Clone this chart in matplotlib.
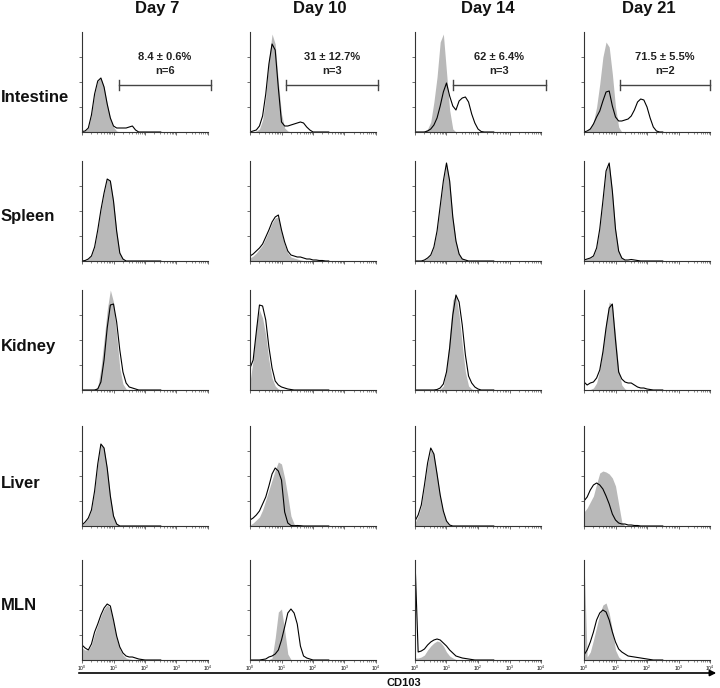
import numpy as np
import matplotlib
matplotlib.use("Agg")
import matplotlib.pyplot as plt
from matplotlib.patches import FancyArrowPatch
from matplotlib.ticker import LogLocator, NullFormatter, LogFormatterMathtext

plt.rcParams['font.family'] = ['Liberation Sans', 'DejaVu Sans']

days = ['Day 7', 'Day 10', 'Day 14', 'Day 21']
tissues = ['Intestine', 'Spleen', 'Kidney', 'Liver', 'MLN']

# histogram bins in log10 fluorescence units (10^0 .. 10^2.5)
decades = np.round(np.arange(0, 2.51, 0.1), 1)

# CD103+ gate on the intestine plots (log10 units) and the stats above it
gate_lo = [1.17, 1.14, 1.2, 1.14]
gate_hi = [4.1, 4.06, 4.16, 4.0]
gate_pct = ['8.4 \u00b1 0.6%', '31 \u00b1 12.7%', '62 \u00b1 6.4%', '71.5 \u00b1 5.5%']
gate_n = [6, 3, 3, 2]

# event counts, % of the panel height; one list per day (7, 10, 14, 21)
# iso = grey filled control, cd103 = black line
intestine_iso = [
    [0.5, 1, 4, 17, 38, 51, 54, 45, 28, 14, 5, 1],
    [0, 0, 1, 3, 12, 35, 72, 98, 88, 50, 18, 4, 1],
    [0, 0, 0, 1, 3, 10, 30, 55, 90, 98, 60, 22, 3],
    [0, 1, 4, 10, 25, 48, 75, 90, 85, 58, 25, 5],
]
intestine_cd103 = [
    [0.5, 1, 4, 17, 38, 51, 54, 45, 28, 14, 6, 4, 4, 4, 4, 5, 6, 2],
    [0, 1, 2, 6, 16, 38, 68, 88, 82, 44, 10, 6, 6, 7, 8, 9, 10, 9, 5, 2],
    [0, 0, 0, 0, 1, 3, 7, 14, 26, 40, 49, 36, 26, 22, 31, 34, 35, 30, 18, 9, 3, 0.5],
    [0, 1, 3, 8, 15, 21, 31, 40, 41, 26, 15, 11, 11, 12, 13, 16, 22, 30, 33, 32, 25, 14, 5, 1],
]
spleen_iso = [
    [0, 0.5, 2, 5, 14, 31, 51, 68, 82, 80, 60, 30, 8, 2],
    [3, 5, 8, 12, 16, 23, 30, 38, 43, 44, 29, 16, 8, 4, 3, 2, 1, 0.5],
    [0, 0, 0, 1, 3, 6, 14, 30, 55, 80, 98, 80, 44, 20, 7, 2, 1],
    [1, 2, 3, 5, 13, 32, 60, 90, 98, 70, 32, 10, 3, 1],
]
spleen_cd103 = [
    [0, 0.5, 2, 5, 14, 31, 51, 68, 82, 80, 60, 30, 8, 2],
    [5, 7, 10, 13, 17, 24, 31, 39, 44, 46, 31, 19, 10, 6, 5, 4, 4, 3, 2, 2, 1, 1, 0.5, 0.5],
    [0, 0, 0, 1, 3, 6, 14, 30, 55, 80, 98, 80, 44, 20, 7, 2, 1],
    [1, 2, 3, 5, 13, 32, 60, 90, 98, 70, 32, 10, 3, 1, 1, 1.5, 1, 0.5],
]
kidney_iso = [
    [0, 0, 0, 0, 1, 3, 22, 50, 80, 100, 88, 55, 22, 6, 1],
    [8, 30, 65, 80, 72, 55, 30, 12, 4, 1],
    [0, 0, 0, 0, 0, 0, 0, 0, 1, 4, 20, 55, 90, 95, 75, 45, 18, 4, 1],
    [0, 0, 0.5, 2, 7, 20, 42, 68, 88, 85, 55, 20, 5, 1],
]
kidney_cd103 = [
    [0, 0, 0, 0, 0, 1, 8, 30, 62, 85, 86, 68, 40, 18, 7, 3, 2, 1],
    [22, 30, 58, 85, 84, 70, 43, 22, 9, 5, 3, 2, 1, 0.5],
    [0, 0, 0, 0, 0, 0, 0, 0.5, 2, 6, 18, 42, 75, 95, 88, 65, 35, 14, 7, 3, 1],
    [8, 5, 7, 8, 12, 20, 38, 62, 82, 86, 50, 18, 11, 8, 7, 7, 5, 3, 2, 2, 1, 0.5],
]
liver_iso = [
    [1, 4, 8, 16, 35, 62, 82, 78, 58, 30, 10, 2],
    [1, 3, 6, 9, 16, 26, 36, 46, 56, 64, 62, 48, 30, 10, 2],
    [3, 10, 20, 40, 62, 76, 72, 52, 30, 14, 4, 0.5],
    [14, 18, 24, 30, 42, 53, 55, 54, 52, 48, 40, 22, 4],
]
liver_cd103 = [
    [1, 4, 8, 16, 35, 62, 82, 78, 58, 30, 10, 2],
    [6, 8, 11, 15, 22, 29, 40, 52, 58, 55, 46, 14, 3, 0.5, 0.3, 0.5, 0.3],
    [5, 11, 21, 41, 63, 78, 72, 52, 31, 15, 5, 1],
    [25, 29, 36, 41, 43, 41, 37, 30, 22, 12, 6, 3, 2, 2, 1, 1, 0.5, 0.5],
]
mln_iso = [
    [12, 10, 10, 15, 26, 35, 44, 51, 55, 52, 38, 22, 11, 5, 2, 1, 0.5],
    [0, 0, 0, 0, 0, 0, 0.5, 2, 22, 48, 51, 30, 6, 0.5],
    [2, 2, 3, 5, 10, 14, 17, 19, 18, 14, 8, 4, 2, 0.5],
    [100, 3, 8, 20, 33, 46, 55, 57, 47, 30, 10, 3, 0.5],
]
mln_cd103 = [
    [15, 12, 10, 16, 28, 36, 45, 52, 56, 54, 40, 24, 13, 7, 4, 3, 3, 2, 1, 0.5],
    [0, 0, 0, 0, 0.5, 1, 3, 4, 6, 10, 20, 33, 47, 51, 47, 36, 14, 4, 2, 1],
    [100, 8, 9, 11, 15, 18, 20, 21, 20, 17, 14, 10, 7, 4, 3, 2, 1.5, 1, 0.5],
    [5, 10, 18, 28, 40, 47, 50, 48, 40, 28, 18, 11, 8, 6, 4, 3.5, 3, 2.5, 2, 1.5, 1, 0.5],
]

iso_rows = [intestine_iso, spleen_iso, kidney_iso, liver_iso, mln_iso]
cd103_rows = [intestine_cd103, spleen_cd103, kidney_cd103, liver_cd103, mln_cd103]

W, H = 720, 688
fig = plt.figure(figsize=(W / 100, H / 100), dpi=100)

col_left = [82, 250, 415, 584]
row_base = [132, 261, 390, 526, 660]
panel_w, panel_h = 126, 100


def fig_xy(x, y):
    return x / W, 1 - y / H


def pad(vals):
    v = np.zeros(len(decades))
    v[:len(vals)] = vals
    return v


x = 10 ** decades
for r in range(len(tissues)):
    for c in range(len(days)):
        l, b = fig_xy(col_left[c], row_base[r])
        ax = fig.add_axes([l, b, panel_w / W, panel_h / H])
        ax.fill_between(x, pad(iso_rows[r][c]), color='#b9b9b9', lw=0)
        ax.plot(x, pad(cd103_rows[r][c]), color='black', lw=0.8)
        ax.set_xscale('log')
        ax.set_xlim(1, 1e4)
        ax.set_ylim(0, 100)
        for s in ['top', 'right']:
            ax.spines[s].set_visible(False)
        for s in ['left', 'bottom']:
            ax.spines[s].set_linewidth(0.8)
            ax.spines[s].set_color('#333333')
        ax.set_yticks([25, 50, 75])
        ax.set_yticklabels([])
        ax.xaxis.set_major_locator(LogLocator(base=10, numticks=6))
        ax.xaxis.set_minor_locator(LogLocator(base=10, subs=np.arange(2, 10), numticks=12))
        ax.xaxis.set_minor_formatter(NullFormatter())
        ax.tick_params(which='major', length=2, width=0.5, color='#333333', pad=1)
        ax.tick_params(which='minor', length=1.2, width=0.4, color='#333333')
        if r == len(tissues) - 1:
            ax.xaxis.set_major_formatter(LogFormatterMathtext())
            ax.tick_params(axis='x', labelsize=3.5)
        else:
            ax.set_xticklabels([])

        if r == 0:
            lo, hi = 10 ** gate_lo[c], 10 ** gate_hi[c]
            kw = dict(color='#444444', lw=1, clip_on=False)
            ax.plot([lo, hi], [47, 47], **kw)
            ax.plot([lo, lo], [42, 52], **kw)
            ax.plot([hi, hi], [42, 52], **kw)
            mid = 10 ** ((gate_lo[c] + gate_hi[c]) / 2)
            ax.text(mid, 75, gate_pct[c], ha='center', va='center',
                    fontsize=8, fontweight='bold', color='#222222')
            ax.text(mid, 61, 'n=%d' % gate_n[c], ha='center', va='center',
                    fontsize=8, fontweight='bold', color='#222222')

# column and row headers
title_x = [157, 320, 488, 649]
for c, d in enumerate(days):
    fig.text(*fig_xy(title_x[c], 9), d, ha='center', va='center',
             fontsize=12, fontweight='bold', color='#111111')
label_y = [97, 217, 347, 483, 605]
for r, t in enumerate(tissues):
    fig.text(*fig_xy(1, label_y[r]), t, ha='left', va='center',
             fontsize=12, fontweight='bold', color='#111111')

# shared CD103 axis arrow
arrow = FancyArrowPatch(fig_xy(76, 673), fig_xy(719, 673), transform=fig.transFigure,
                        arrowstyle='-|>', mutation_scale=9, lw=1.2, color='black')
fig.add_artist(arrow)
fig.text(*fig_xy(404, 683), 'CD103', ha='center', va='center',
         fontsize=8, fontweight='bold', color='#111111')

fig.savefig('out.png', dpi=100)
